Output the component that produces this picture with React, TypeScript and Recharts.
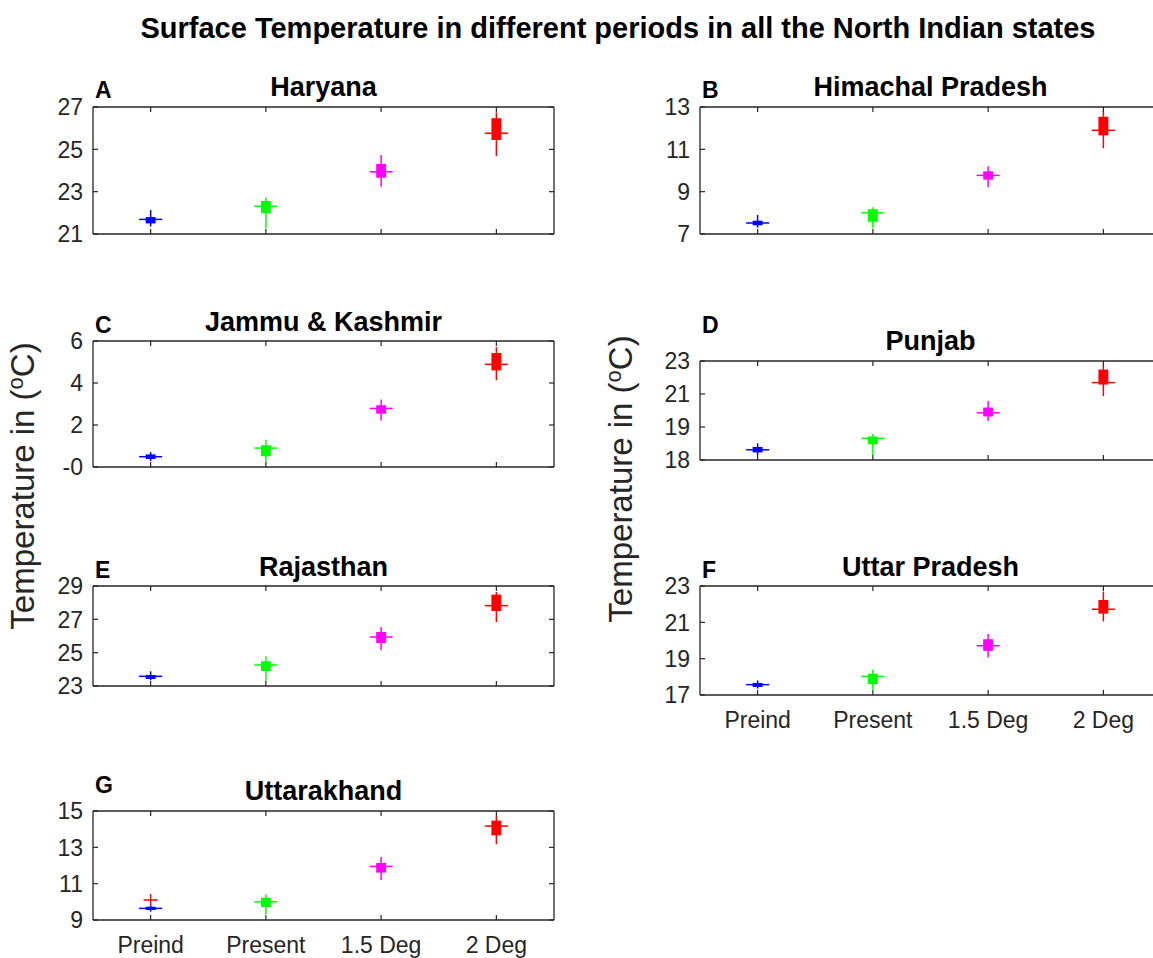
import React from 'react';
import { ComposedChart, XAxis, YAxis, ReferenceLine, ReferenceArea, Scatter } from 'recharts';

const periods = ['Preind', 'Present', '1.5 Deg', '2 Deg'];
const periodColors = ['#0000ff', '#00ff00', '#ff00ff', '#ff0000'];

// each row: [whisker low, q1, median, q3, whisker high]
const haryana = [
  [21.35, 21.5, 21.69, 21.8, 22.13],
  [21.27, 21.98, 22.31, 22.56, 22.73],
  [23.23, 23.66, 23.94, 24.31, 24.73],
  [24.68, 25.44, 25.76, 26.47, 26.75],
];
const himachal = [
  [7.3, 7.41, 7.52, 7.63, 7.9],
  [7.27, 7.58, 8.0, 8.17, 8.26],
  [9.21, 9.57, 9.77, 9.96, 10.2],
  [11.05, 11.66, 11.9, 12.54, 12.81],
];
const jammuKashmir = [
  [0.29, 0.38, 0.49, 0.6, 0.71],
  [0.24, 0.51, 0.9, 1.03, 1.3],
  [2.22, 2.54, 2.79, 2.94, 3.21],
  [4.13, 4.6, 4.89, 5.43, 5.71],
];
const punjab = [
  [17.3, 17.46, 17.62, 17.79, 18.01],
  [17.3, 17.95, 18.31, 18.43, 18.57],
  [19.37, 19.64, 19.86, 20.18, 20.57],
  [20.87, 21.57, 21.69, 22.48, 22.74],
];
const rajasthan = [
  [23.34, 23.42, 23.58, 23.66, 23.88],
  [23.3, 23.9, 24.26, 24.48, 24.78],
  [25.14, 25.58, 25.94, 26.24, 26.54],
  [26.84, 27.5, 27.82, 28.48, 28.64],
];
const uttarPradesh = [
  [17.35, 17.44, 17.57, 17.66, 17.8],
  [17.29, 17.6, 18.02, 18.17, 18.39],
  [19.06, 19.43, 19.71, 20.07, 20.36],
  [21.05, 21.48, 21.72, 22.23, 22.69],
];
const uttarakhand = [
  [9.46, 9.55, 9.64, 9.73, 9.82],
  [9.31, 9.71, 10.0, 10.22, 10.41],
  [11.2, 11.61, 11.95, 12.14, 12.47],
  [13.17, 13.66, 14.17, 14.47, 14.73],
];
const uttarakhandOutliers = [{ x: 1, y: 10.1 }];

const FONT = '"Liberation Sans", Arial, Helvetica, sans-serif';
const AXIS = '#262626';
const PLOT_W = 461;
const TICK_FS = 23;

const panels = [
  { letter: 'A', title: 'Haryana', data: haryana, outliers: [], ticks: [21, 23, 25, 27], labels: ['21', '23', '25', '27'], left: 93, top: 107, h: 127, showX: false, titleY: 96, letterY: 98 },
  { letter: 'B', title: 'Himachal Pradesh', data: himachal, outliers: [], ticks: [7, 9, 11, 13], labels: ['7', '9', '11', '13'], left: 700, top: 107, h: 127, showX: false, titleY: 96, letterY: 98 },
  { letter: 'C', title: 'Jammu & Kashmir', data: jammuKashmir, outliers: [], ticks: [0, 2, 4, 6], labels: ['-0', '2', '4', '6'], left: 93, top: 341, h: 126, showX: false, titleY: 331, letterY: 333 },
  { letter: 'D', title: 'Punjab', data: punjab, outliers: [], ticks: [17, 19, 21, 23], labels: ['18', '19', '21', '23'], left: 700, top: 361, h: 99, showX: false, titleY: 350, letterY: 333 },
  { letter: 'E', title: 'Rajasthan', data: rajasthan, outliers: [], ticks: [23, 25, 27, 29], labels: ['23', '25', '27', '29'], left: 93, top: 586, h: 100, showX: false, titleY: 576, letterY: 578 },
  { letter: 'F', title: 'Uttar Pradesh', data: uttarPradesh, outliers: [], ticks: [17, 19, 21, 23], labels: ['17', '19', '21', '23'], left: 700, top: 586, h: 109, showX: true, titleY: 576, letterY: 578 },
  { letter: 'G', title: 'Uttarakhand', data: uttarakhand, outliers: uttarakhandOutliers, ticks: [9, 11, 13, 15], labels: ['9', '11', '13', '15'], left: 93, top: 811, h: 109, showX: true, titleY: 800, letterY: 793 },
];

const PlusMark = (props: any) => {
  const { cx, cy } = props;
  return (
    <g>
      <line x1={cx - 7} x2={cx + 7} y1={cy} y2={cy} stroke="#ff0000" strokeWidth={1.3} />
      <line x1={cx} x2={cx} y1={cy - 6} y2={cy + 6} stroke="#ff0000" strokeWidth={1.3} />
    </g>
  );
};
const NoMark = () => <g />;

const Panel = ({ p }: { p: any }) => {
  const bottomH = p.showX ? 42 : 16;
  const topM = 16;
  const leftW = 80;
  const domain = [p.ticks[0], p.ticks[p.ticks.length - 1]];
  const medians = p.data.map((d: number[], i: number) => ({ x: i + 1, y: d[2] }));

  const leftTick = (props: any) => {
    const { x, y, payload } = props;
    const i = p.ticks.indexOf(payload.value);
    return (
      <g>
        <line x1={x + 10} x2={x + 15} y1={y} y2={y} stroke={AXIS} strokeWidth={1.2} />
        <text x={x} y={y} dy="0.36em" textAnchor="end" fontSize={TICK_FS} fill={AXIS} fontFamily={FONT}>{p.labels[i]}</text>
      </g>
    );
  };
  const rightTick = (props: any) => {
    const { x, y } = props;
    return <line x1={x} x2={x - 5} y1={y} y2={y} stroke={AXIS} strokeWidth={1.2} />;
  };
  const bottomTick = (props: any) => {
    const { x, y, payload } = props;
    return (
      <g>
        <line x1={x} x2={x} y1={y - 2} y2={y - 7} stroke={AXIS} strokeWidth={1.2} />
        {p.showX && (
          <text x={x} y={y + 31} textAnchor="middle" fontSize={TICK_FS} fill={AXIS} fontFamily={FONT}>{periods[payload.value - 1]}</text>
        )}
      </g>
    );
  };
  const topTick = (props: any) => {
    const { x, y } = props;
    return <line x1={x} x2={x} y1={y} y2={y + 5} stroke={AXIS} strokeWidth={1.2} />;
  };

  return (
    <div style={{ position: 'absolute', left: p.left - leftW, top: p.top - topM }}>
      <ComposedChart
        width={leftW + PLOT_W + 10}
        height={topM + p.h + bottomH}
        margin={{ top: topM - 1, right: 9, left: 0, bottom: 0 }}
        style={{ overflow: 'visible' }}
      >
        <XAxis type="number" dataKey="x" domain={[0.5, 4.5]} ticks={[1, 2, 3, 4]} interval={0}
          height={bottomH} tickSize={0} tickMargin={2} tick={bottomTick} axisLine={{ stroke: AXIS, strokeWidth: 1.3 }} />
        <XAxis xAxisId="top" orientation="top" type="number" dataKey="x" domain={[0.5, 4.5]} ticks={[1, 2, 3, 4]} interval={0}
          height={1} tickSize={0} tickMargin={0} tick={topTick} axisLine={{ stroke: AXIS, strokeWidth: 1.3 }} />
        <YAxis type="number" domain={domain} ticks={p.ticks} interval={0} width={leftW}
          tickSize={0} tickMargin={10} tick={leftTick} axisLine={{ stroke: AXIS, strokeWidth: 1.3 }} allowDataOverflow />
        <YAxis yAxisId="right" orientation="right" type="number" domain={domain} ticks={p.ticks} interval={0} width={1}
          tickSize={0} tickMargin={0} tick={rightTick} axisLine={{ stroke: AXIS, strokeWidth: 1.3 }} allowDataOverflow />
        <Scatter data={medians} dataKey="y" shape={NoMark} isAnimationActive={false} />
        <Scatter xAxisId="top" yAxisId="right" data={medians} dataKey="y" shape={NoMark} isAnimationActive={false} />
        {p.data.map((d: number[], i: number) => (
          <ReferenceLine key={'w' + i} segment={[{ x: i + 1, y: d[0] }, { x: i + 1, y: d[4] }]}
            stroke={periodColors[i]} strokeWidth={1.5} ifOverflow="visible" />
        ))}
        {p.data.map((d: number[], i: number) => (
          <ReferenceArea key={'b' + i} x1={i + 1 - 0.043} x2={i + 1 + 0.043} y1={d[1]} y2={d[3]}
            fill={periodColors[i]} fillOpacity={1} stroke="none" ifOverflow="visible" />
        ))}
        {p.data.map((d: number[], i: number) => (
          <ReferenceLine key={'m' + i} segment={[{ x: i + 1 - 0.1, y: d[2] }, { x: i + 1 + 0.1, y: d[2] }]}
            stroke={periodColors[i]} strokeWidth={1.5} ifOverflow="visible" />
        ))}
        {p.outliers.length > 0 && (
          <Scatter data={p.outliers} dataKey="y" shape={PlusMark} isAnimationActive={false} />
        )}
      </ComposedChart>
    </div>
  );
};

export default function App() {
  return (
    <div style={{ position: 'absolute', left: 0, top: 0, width: 1153, height: 958, overflow: 'hidden', background: '#fff', fontFamily: FONT }}>
      {panels.map((p) => <Panel key={p.letter} p={p} />)}
      <svg width={1153} height={958} style={{ position: 'absolute', left: 0, top: 0, pointerEvents: 'none' }} fontFamily={FONT}>
        <text x={618} y={38} textAnchor="middle" fontSize={29} fontWeight="bold" fill="#000">
          Surface Temperature in different periods in all the North Indian states
        </text>
        {panels.map((p) => (
          <g key={'t' + p.letter}>
            <text x={p.left + 2} y={p.letterY} fontSize={23} fontWeight="bold" fill="#000">{p.letter}</text>
            <text x={p.left + PLOT_W / 2} y={p.titleY} textAnchor="middle" fontSize={27} fontWeight="bold" fill="#000">{p.title}</text>
          </g>
        ))}
        <text transform="translate(34,486) rotate(-90)" textAnchor="middle" fontSize={33} fill={AXIS}>
          Temperature in (<tspan dy={-11} fontSize={22}>o</tspan><tspan dy={11}>C)</tspan>
        </text>
        <text transform="translate(632,479) rotate(-90)" textAnchor="middle" fontSize={33} fill={AXIS}>
          Temperature in (<tspan dy={-11} fontSize={22}>o</tspan><tspan dy={11}>C)</tspan>
        </text>
      </svg>
    </div>
  );
}
